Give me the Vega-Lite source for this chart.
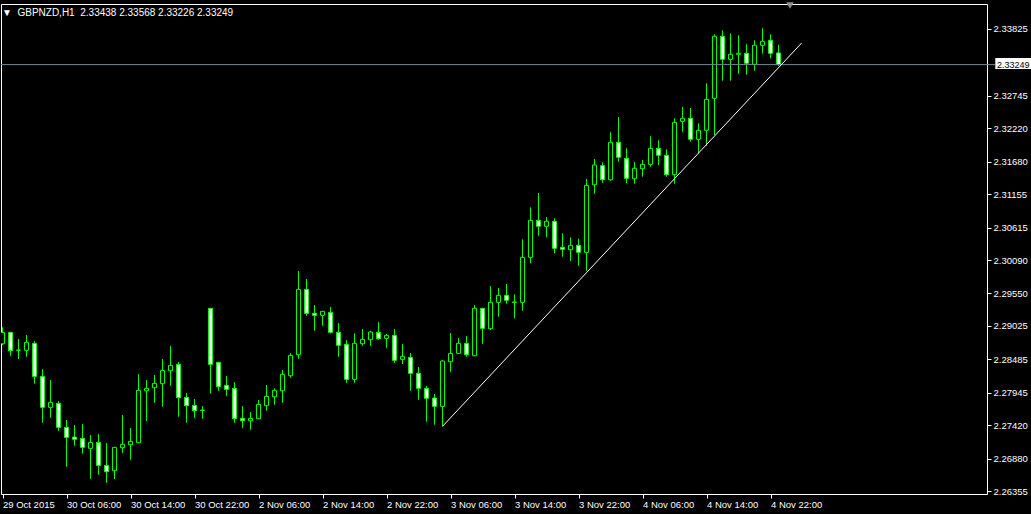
{
  "$schema": "https://vega.github.io/schema/vega-lite/v6.json",
  "width": 986,
  "height": 490,
  "autosize": {"type": "none"},
  "padding": {"left": 1, "top": 4, "right": 44, "bottom": 20},
  "background": "black",
  "config": {
    "view": {"stroke": "white", "strokeWidth": 1, "fill": "black"},
    "font": "Liberation Sans",
    "axis": {"labelOverlap": false, "labelBound": false, "labelFlush": false, "grid": false, "domain": false}
  },
  "title": {
    "text": "▼\u00a0\u00a0GBPNZD,H1\u00a0\u00a02.33438 2.33568 2.33226 2.33249",
    "anchor": "start",
    "frame": "group",
    "orient": "top",
    "offset": -16,
    "dx": 1,
    "color": "white",
    "font": "Liberation Sans",
    "fontSize": 10,
    "fontWeight": "normal"
  },
  "datasets": {
    "candles": [
      {"i":0,"t":"2015-10-29 22:00","o":2.28736,"h":2.29002,"l":2.28715,"c":2.28921},
      {"i":1,"t":"2015-10-29 23:00","o":2.28921,"h":2.28926,"l":2.28542,"c":2.28623},
      {"i":2,"t":"2015-10-30 00:00","o":2.28630,"h":2.28812,"l":2.28489,"c":2.28635},
      {"i":3,"t":"2015-10-30 01:00","o":2.28630,"h":2.28877,"l":2.28526,"c":2.28759},
      {"i":4,"t":"2015-10-30 02:00","o":2.28743,"h":2.28780,"l":2.28090,"c":2.28209},
      {"i":5,"t":"2015-10-30 03:00","o":2.28209,"h":2.28327,"l":2.27459,"c":2.27708},
      {"i":6,"t":"2015-10-30 04:00","o":2.27708,"h":2.28149,"l":2.27540,"c":2.27789},
      {"i":7,"t":"2015-10-30 05:00","o":2.27773,"h":2.27810,"l":2.27330,"c":2.27385},
      {"i":8,"t":"2015-10-30 06:00","o":2.27385,"h":2.27503,"l":2.26748,"c":2.27223},
      {"i":9,"t":"2015-10-30 07:00","o":2.27228,"h":2.27422,"l":2.27087,"c":2.27191},
      {"i":10,"t":"2015-10-30 08:00","o":2.27207,"h":2.27438,"l":2.26958,"c":2.27061},
      {"i":11,"t":"2015-10-30 09:00","o":2.27045,"h":2.27260,"l":2.26553,"c":2.27142},
      {"i":12,"t":"2015-10-30 10:00","o":2.27142,"h":2.27276,"l":2.26618,"c":2.26770},
      {"i":13,"t":"2015-10-30 11:00","o":2.26770,"h":2.27131,"l":2.26489,"c":2.26667},
      {"i":14,"t":"2015-10-30 12:00","o":2.26683,"h":2.27070,"l":2.26549,"c":2.27061},
      {"i":15,"t":"2015-10-30 13:00","o":2.27055,"h":2.27583,"l":2.26969,"c":2.27110},
      {"i":16,"t":"2015-10-30 14:00","o":2.27103,"h":2.27373,"l":2.26861,"c":2.27158},
      {"i":17,"t":"2015-10-30 15:00","o":2.27136,"h":2.28246,"l":2.27130,"c":2.27983},
      {"i":18,"t":"2015-10-30 16:00","o":2.27976,"h":2.28149,"l":2.27486,"c":2.28015},
      {"i":19,"t":"2015-10-30 17:00","o":2.28025,"h":2.28230,"l":2.27782,"c":2.28096},
      {"i":20,"t":"2015-10-30 18:00","o":2.28090,"h":2.28489,"l":2.27718,"c":2.28306},
      {"i":21,"t":"2015-10-30 19:00","o":2.28300,"h":2.28699,"l":2.28057,"c":2.28387},
      {"i":22,"t":"2015-10-30 20:00","o":2.28403,"h":2.28440,"l":2.27556,"c":2.27863},
      {"i":23,"t":"2015-10-30 21:00","o":2.27869,"h":2.27939,"l":2.27459,"c":2.27734},
      {"i":24,"t":"2015-10-30 22:00","o":2.27740,"h":2.27842,"l":2.27540,"c":2.27653},
      {"i":25,"t":"2015-10-30 23:00","o":2.27659,"h":2.27729,"l":2.27524,"c":2.27664},
      {"i":26,"t":"2015-11-02 00:00","o":2.29309,"h":2.29315,"l":2.27934,"c":2.28403},
      {"i":27,"t":"2015-11-02 01:00","o":2.28436,"h":2.28440,"l":2.27976,"c":2.28041},
      {"i":28,"t":"2015-11-02 02:00","o":2.28064,"h":2.28214,"l":2.27896,"c":2.27999},
      {"i":29,"t":"2015-11-02 03:00","o":2.28015,"h":2.28117,"l":2.27459,"c":2.27524},
      {"i":30,"t":"2015-11-02 04:00","o":2.27530,"h":2.27729,"l":2.27378,"c":2.27491},
      {"i":31,"t":"2015-11-02 05:00","o":2.27491,"h":2.27632,"l":2.27346,"c":2.27530},
      {"i":32,"t":"2015-11-02 06:00","o":2.27524,"h":2.27826,"l":2.27520,"c":2.27756},
      {"i":33,"t":"2015-11-02 07:00","o":2.27734,"h":2.28069,"l":2.27653,"c":2.27886},
      {"i":34,"t":"2015-11-02 08:00","o":2.27879,"h":2.28015,"l":2.27750,"c":2.27983},
      {"i":35,"t":"2015-11-02 09:00","o":2.27976,"h":2.28311,"l":2.27782,"c":2.28242},
      {"i":36,"t":"2015-11-02 10:00","o":2.28219,"h":2.28586,"l":2.28187,"c":2.28549},
      {"i":37,"t":"2015-11-02 11:00","o":2.28559,"h":2.29912,"l":2.28494,"c":2.29616},
      {"i":38,"t":"2015-11-02 12:00","o":2.29616,"h":2.29783,"l":2.29189,"c":2.29228},
      {"i":39,"t":"2015-11-02 13:00","o":2.29228,"h":2.29362,"l":2.28947,"c":2.29196},
      {"i":40,"t":"2015-11-02 14:00","o":2.29196,"h":2.29265,"l":2.29027,"c":2.29260},
      {"i":41,"t":"2015-11-02 15:00","o":2.29244,"h":2.29330,"l":2.28905,"c":2.28921},
      {"i":42,"t":"2015-11-02 16:00","o":2.28921,"h":2.29071,"l":2.28526,"c":2.28711},
      {"i":43,"t":"2015-11-02 17:00","o":2.28727,"h":2.28796,"l":2.28106,"c":2.28161},
      {"i":44,"t":"2015-11-02 18:00","o":2.28161,"h":2.28905,"l":2.28106,"c":2.28743},
      {"i":45,"t":"2015-11-02 19:00","o":2.28736,"h":2.28974,"l":2.28704,"c":2.28808},
      {"i":46,"t":"2015-11-02 20:00","o":2.28801,"h":2.28947,"l":2.28704,"c":2.28926},
      {"i":47,"t":"2015-11-02 21:00","o":2.28921,"h":2.29087,"l":2.28801,"c":2.28817},
      {"i":48,"t":"2015-11-02 22:00","o":2.28824,"h":2.28894,"l":2.28672,"c":2.28872},
      {"i":49,"t":"2015-11-02 23:00","o":2.28872,"h":2.28974,"l":2.28429,"c":2.28468},
      {"i":50,"t":"2015-11-03 00:00","o":2.28484,"h":2.28732,"l":2.28408,"c":2.28533},
      {"i":51,"t":"2015-11-03 01:00","o":2.28517,"h":2.28586,"l":2.27976,"c":2.28258},
      {"i":52,"t":"2015-11-03 02:00","o":2.28258,"h":2.28360,"l":2.27831,"c":2.28015},
      {"i":53,"t":"2015-11-03 03:00","o":2.28015,"h":2.28052,"l":2.27475,"c":2.27854},
      {"i":54,"t":"2015-11-03 04:00","o":2.27858,"h":2.27923,"l":2.27427,"c":2.27724},
      {"i":55,"t":"2015-11-03 05:00","o":2.27724,"h":2.28473,"l":2.27401,"c":2.28457},
      {"i":56,"t":"2015-11-03 06:00","o":2.28445,"h":2.28909,"l":2.28284,"c":2.28581},
      {"i":57,"t":"2015-11-03 07:00","o":2.28581,"h":2.28829,"l":2.28575,"c":2.28743},
      {"i":58,"t":"2015-11-03 08:00","o":2.28743,"h":2.28861,"l":2.28526,"c":2.28559},
      {"i":59,"t":"2015-11-03 09:00","o":2.28542,"h":2.29362,"l":2.28535,"c":2.29309},
      {"i":60,"t":"2015-11-03 10:00","o":2.29309,"h":2.29315,"l":2.28736,"c":2.28985},
      {"i":61,"t":"2015-11-03 11:00","o":2.28979,"h":2.29669,"l":2.28958,"c":2.29406},
      {"i":62,"t":"2015-11-03 12:00","o":2.29406,"h":2.29637,"l":2.29173,"c":2.29519},
      {"i":63,"t":"2015-11-03 13:00","o":2.29519,"h":2.29702,"l":2.29383,"c":2.29438},
      {"i":64,"t":"2015-11-03 14:00","o":2.29411,"h":2.29535,"l":2.29147,"c":2.29406},
      {"i":65,"t":"2015-11-03 15:00","o":2.29406,"h":2.30425,"l":2.29270,"c":2.30134},
      {"i":66,"t":"2015-11-03 16:00","o":2.30134,"h":2.30942,"l":2.30036,"c":2.30732},
      {"i":67,"t":"2015-11-03 17:00","o":2.30732,"h":2.31173,"l":2.30483,"c":2.30635},
      {"i":68,"t":"2015-11-03 18:00","o":2.30635,"h":2.30785,"l":2.30457,"c":2.30716},
      {"i":69,"t":"2015-11-03 19:00","o":2.30716,"h":2.30764,"l":2.30198,"c":2.30279},
      {"i":70,"t":"2015-11-03 20:00","o":2.30295,"h":2.30522,"l":2.30143,"c":2.30263},
      {"i":71,"t":"2015-11-03 21:00","o":2.30256,"h":2.30457,"l":2.30074,"c":2.30328},
      {"i":72,"t":"2015-11-03 22:00","o":2.30328,"h":2.30434,"l":2.29998,"c":2.30214},
      {"i":73,"t":"2015-11-03 23:00","o":2.30214,"h":2.31400,"l":2.29917,"c":2.31298},
      {"i":74,"t":"2015-11-04 00:00","o":2.31307,"h":2.31723,"l":2.31162,"c":2.31626},
      {"i":75,"t":"2015-11-04 01:00","o":2.31615,"h":2.31670,"l":2.31340,"c":2.31388},
      {"i":76,"t":"2015-11-04 02:00","o":2.31388,"h":2.32155,"l":2.31372,"c":2.31993},
      {"i":77,"t":"2015-11-04 03:00","o":2.31993,"h":2.32402,"l":2.31679,"c":2.31751},
      {"i":78,"t":"2015-11-04 04:00","o":2.31734,"h":2.31896,"l":2.31330,"c":2.31411},
      {"i":79,"t":"2015-11-04 05:00","o":2.31404,"h":2.31675,"l":2.31323,"c":2.31573},
      {"i":80,"t":"2015-11-04 06:00","o":2.31566,"h":2.31707,"l":2.31437,"c":2.31637},
      {"i":81,"t":"2015-11-04 07:00","o":2.31637,"h":2.32090,"l":2.31599,"c":2.31896},
      {"i":82,"t":"2015-11-04 08:00","o":2.31896,"h":2.32025,"l":2.31626,"c":2.31783},
      {"i":83,"t":"2015-11-04 09:00","o":2.31783,"h":2.31880,"l":2.31437,"c":2.31469},
      {"i":84,"t":"2015-11-04 10:00","o":2.31469,"h":2.32381,"l":2.31323,"c":2.32316},
      {"i":85,"t":"2015-11-04 11:00","o":2.32333,"h":2.32564,"l":2.32164,"c":2.32381},
      {"i":86,"t":"2015-11-04 12:00","o":2.32381,"h":2.32548,"l":2.32003,"c":2.32042},
      {"i":87,"t":"2015-11-04 13:00","o":2.32042,"h":2.32300,"l":2.31815,"c":2.32187},
      {"i":88,"t":"2015-11-04 14:00","o":2.32187,"h":2.32947,"l":2.31933,"c":2.32688},
      {"i":89,"t":"2015-11-04 15:00","o":2.32705,"h":2.33739,"l":2.32111,"c":2.33707},
      {"i":90,"t":"2015-11-04 16:00","o":2.33707,"h":2.33804,"l":2.32989,"c":2.33335},
      {"i":91,"t":"2015-11-04 17:00","o":2.33335,"h":2.33756,"l":2.32989,"c":2.33416},
      {"i":92,"t":"2015-11-04 18:00","o":2.33416,"h":2.33723,"l":2.33102,"c":2.33432},
      {"i":93,"t":"2015-11-04 19:00","o":2.33432,"h":2.33578,"l":2.33086,"c":2.33271},
      {"i":94,"t":"2015-11-04 20:00","o":2.33254,"h":2.33642,"l":2.33151,"c":2.33562},
      {"i":95,"t":"2015-11-04 21:00","o":2.33562,"h":2.33836,"l":2.33426,"c":2.33626},
      {"i":96,"t":"2015-11-04 22:00","o":2.33642,"h":2.33739,"l":2.33351,"c":2.33432},
      {"i":97,"t":"2015-11-04 23:00","o":2.33438,"h":2.33568,"l":2.33226,"c":2.33249}
    ],
    "trend": [
      {"i": 55, "p": 2.27401},
      {"i": 99.9, "p": 2.33599}
    ]
  },
  "layer": [
    {
      "data": {"name": "candles"},
      "mark": {"type": "rule", "color": "#00FF00", "strokeWidth": 1, "clip": true},
      "encoding": {
        "x": {
          "field": "i", "type": "quantitative",
          "scale": {"domain": [-0.1875, 123.0625], "nice": false, "zero": false, "padding": 0},
          "axis": {
            "values": [0, 8, 16, 24, 32, 40, 48, 56, 64, 72, 80, 88, 96],
            "tickCount": 40,
            "labelExpr": "['29 Oct 2015','30 Oct 06:00','30 Oct 14:00','30 Oct 22:00','2 Nov 06:00','2 Nov 14:00','2 Nov 22:00','3 Nov 06:00','3 Nov 14:00','3 Nov 22:00','4 Nov 06:00','4 Nov 14:00','4 Nov 22:00'][round(datum.value/8)]",
            "labelAlign": "left",
            "labelColor": "white",
            "labelFont": "Liberation Sans",
            "labelFontSize": 9.5,
            "labelPadding": 1,
            "labelFlush": false,
            "labelOverlap": false,
            "labelBound": false,
            "tickColor": "white",
            "tickSize": 4,
            "domain": false,
            "grid": false,
            "title": null
          }
        },
        "y": {
          "field": "l", "type": "quantitative",
          "scale": {"domain": [2.26307, 2.34229], "nice": false, "zero": false, "padding": 0},
          "axis": {
            "orient": "right",
            "values": [2.33825, 2.32745, 2.3222, 2.3168, 2.31155, 2.30615, 2.3009, 2.2955, 2.29025, 2.28485, 2.27945, 2.2742, 2.2688, 2.26355],
            "tickCount": 40,
            "format": ".5f",
            "labelColor": "white",
            "labelFont": "Liberation Sans",
            "labelFontSize": 9.5,
            "labelPadding": 2,
            "labelBaseline": "middle",
            "labelOverlap": false,
            "labelBound": false,
            "labelFlush": false,
            "tickColor": "white",
            "tickSize": 4,
            "domain": false,
            "grid": false,
            "title": null
          }
        },
        "y2": {"field": "h"}
      }
    },
    {
      "data": {"name": "candles"},
      "mark": {"type": "bar", "width": 4, "stroke": "#00FF00", "strokeWidth": 1, "clip": true},
      "encoding": {
        "x": {"field": "i", "type": "quantitative"},
        "y": {"field": "o", "type": "quantitative"},
        "y2": {"field": "c"},
        "fill": {"condition": {"test": "datum.c < datum.o", "value": "white"}, "value": "black"}
      }
    },
    {
      "data": {"values": [{}]},
      "mark": {"type": "rule", "color": "#778899", "strokeWidth": 1},
      "encoding": {
        "x": {"datum": -0.1875, "type": "quantitative"},
        "x2": {"datum": 124.1},
        "y": {"datum": 2.33249, "type": "quantitative"}
      }
    },
    {
      "data": {"name": "trend"},
      "mark": {"type": "line", "color": "white", "strokeWidth": 1},
      "encoding": {
        "x": {"field": "i", "type": "quantitative"},
        "y": {"field": "p", "type": "quantitative"}
      }
    },
    {
      "data": {"values": [{}]},
      "mark": {"type": "rect", "fill": "white"},
      "encoding": {
        "x": {"datum": 124.1, "type": "quantitative"},
        "x2": {"datum": 128.6},
        "y": {"datum": 2.33356, "type": "quantitative"},
        "y2": {"datum": 2.33178}
      }
    },
    {
      "data": {"values": [{"label": "2.33249"}]},
      "mark": {"type": "text", "align": "left", "baseline": "middle", "color": "black", "font": "Liberation Sans", "fontSize": 9},
      "encoding": {
        "x": {"datum": 124.3, "type": "quantitative"},
        "y": {"datum": 2.33249, "type": "quantitative"},
        "text": {"field": "label"}
      }
    },
    {
      "data": {"values": [{}]},
      "mark": {"type": "point", "shape": "triangle-down", "filled": true, "color": "#909090", "size": 55, "opacity": 1},
      "encoding": {
        "x": {"datum": 98.44, "type": "quantitative"},
        "y": {"datum": 2.34205, "type": "quantitative"}
      }
    }
  ]
}
